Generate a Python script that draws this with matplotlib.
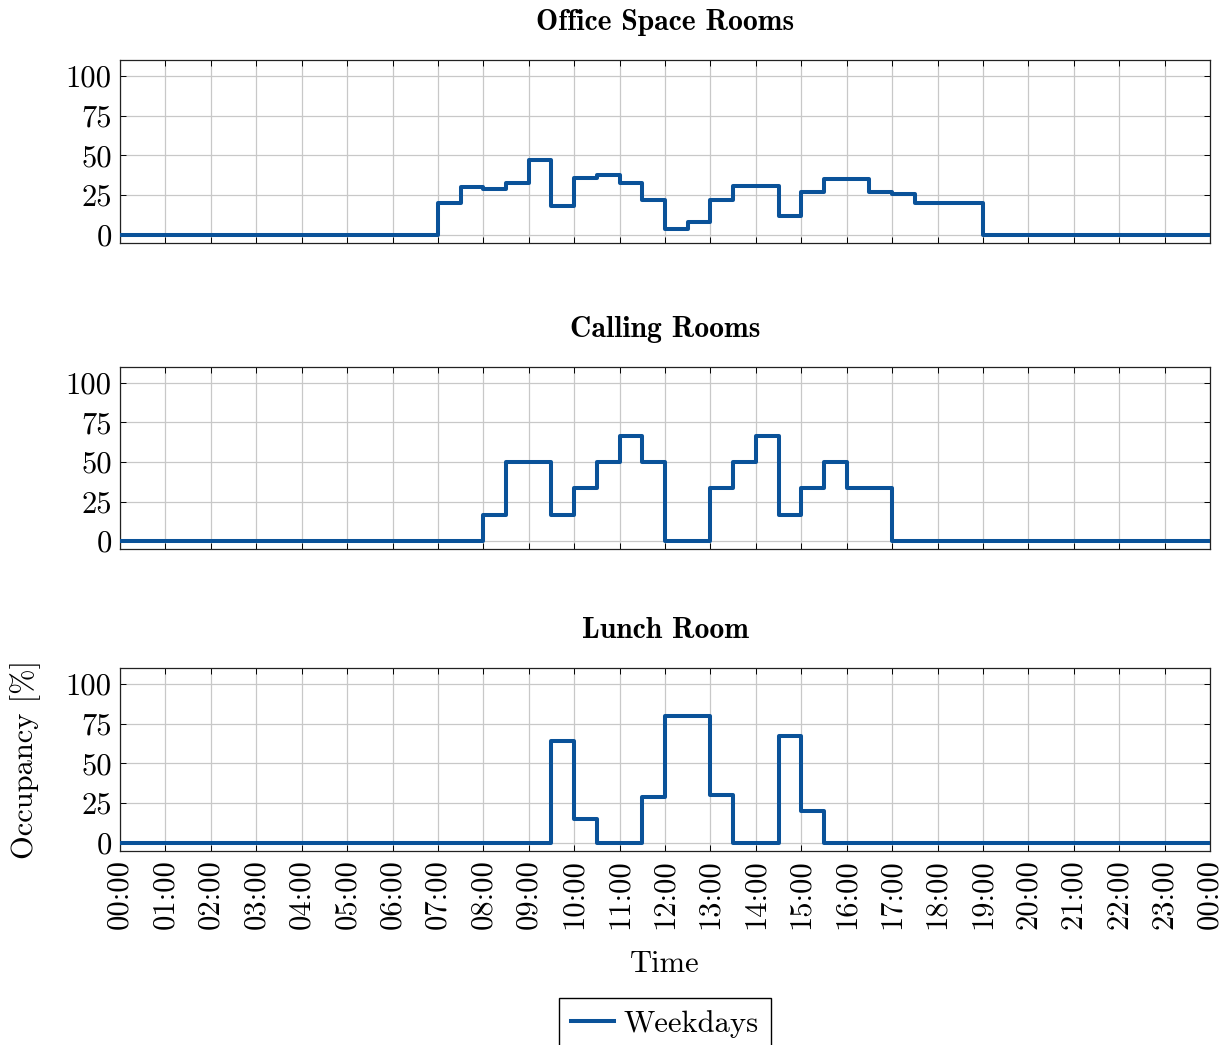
import matplotlib
matplotlib.use("Agg")
import matplotlib.pyplot as plt
import numpy as np

# Occupancy schedules (% of capacity), each value holds from its start hour
# until the next start hour; the last value holds until 24:00.
office_start = [0, 7, 7.5, 8, 8.5, 9, 9.5, 10, 10.5, 11, 11.5, 12, 12.5, 13,
                13.5, 14.5, 15, 15.5, 16.5, 17, 17.5, 19]
office_occ = [0, 20, 30, 29, 33, 47, 18, 36, 38, 33, 22, 4, 8, 22,
              31, 12, 27, 35, 27, 26, 20, 0]

calling_start = [0, 8, 8.5, 9.5, 10, 10.5, 11, 11.5, 12, 13, 13.5, 14, 14.5,
                 15, 15.5, 16, 17]
calling_occ = [0, 16.67, 50, 16.67, 33.33, 50, 66.67, 50, 0, 33.33, 50, 66.67,
               16.67, 33.33, 50, 33.33, 0]

lunch_start = [0, 9.5, 10, 10.5, 11.5, 12, 13, 13.5, 14.5, 15, 15.5]
lunch_occ = [0, 64, 15, 0, 29, 80, 30, 0, 67, 20, 0]

panel_titles = ["Office Space Rooms", "Calling Rooms", "Lunch Room"]
series_label = "Weekdays"
hour_ticks = list(range(0, 25))
hour_labels = [f"{h % 24:02d}:00" for h in hour_ticks]
y_ticks = [0, 25, 50, 75, 100]

LINE_COLOR = "#0a5299"
plt.rcParams["font.family"] = ["cmr10", "DejaVu Serif"]
plt.rcParams["axes.unicode_minus"] = False

W, H = 1229, 1045
fig = plt.figure(figsize=(W / 100, H / 100), dpi=100)

left, right = 120, 1210
boxes = [(60, 243), (367, 549), (668, 851)]
series = [(office_start, office_occ), (calling_start, calling_occ),
          (lunch_start, lunch_occ)]

axes = []
for i, ((top, bot), (starts, occ), title) in enumerate(zip(boxes, series, panel_titles)):
    ax = fig.add_axes([left / W, 1 - bot / H, (right - left) / W, (bot - top) / H])
    xs = list(starts) + [24]
    ys = list(occ) + [occ[-1]]
    line, = ax.step(xs, ys, where="post", color=LINE_COLOR, lw=2.9,
                    label=series_label, zorder=3)
    ax.set_xlim(0, 24)
    ax.set_ylim(-5, 110)
    ax.set_yticks(y_ticks)
    ax.set_yticklabels([str(v) for v in y_ticks])
    ax.set_xticks(hour_ticks)
    ax.grid(True, color="#c8c8c8", lw=0.9)
    ax.set_axisbelow(True)
    ax.tick_params(direction="in", top=True, right=True, length=4,
                   width=0.7, labelsize=22, pad=6)
    for s in ax.spines.values():
        s.set_linewidth(0.9)
        s.set_color("#222222")
    ax.set_title(title, family=["cmb10", "DejaVu Serif"], fontsize=21.3,
                 pad=21.5)
    if i < 2:
        ax.set_xticklabels([])
    else:
        ax.set_xticklabels(hour_labels, rotation=90)
        ax.set_xlabel("Time", fontsize=22, labelpad=15)
        ax.set_ylabel("Occupancy [%]", fontsize=22, labelpad=18)
    axes.append(ax)

fig.legend(handles=[line], labels=[series_label], loc="upper center",
           bbox_to_anchor=(665 / W, 1 - 998 / H), fontsize=22,
           frameon=True, fancybox=False, edgecolor="black", framealpha=1,
           handlelength=1.4, handletextpad=0.3, borderpad=0.4,
           borderaxespad=0)

fig.savefig("out.png", dpi=100)
